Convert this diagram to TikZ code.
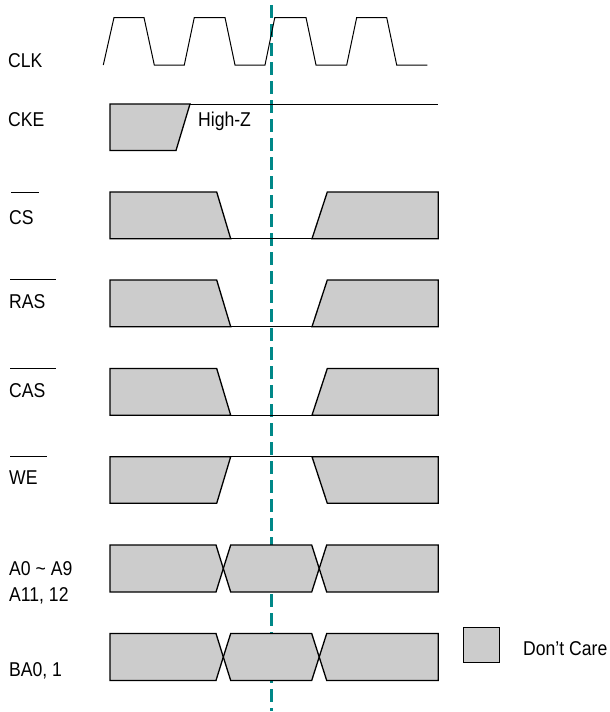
\documentclass[tikz,border=0pt]{standalone}
\usepackage{fontspec}
\setmainfont{Liberation Sans}[FakeStretch=0.88]
\definecolor{dcgray}{RGB}{204,204,204}
\definecolor{markteal}{RGB}{0,136,136}
\begin{document}
\begin{tikzpicture}[x=1pt,y=-1pt,
  lbl/.style={anchor=base west,inner sep=0pt,font=\fontsize{20}{24}\selectfont},
  sig/.style={line width=1pt,line join=miter},
  dc/.style={fill=dcgray,draw=black,line width=1.3pt,line join=miter},
  ovl/.style={line width=0.9pt},
  marker/.style={draw=markteal,line width=2.5pt,dash pattern=on 13pt off 6pt}]
\useasboundingbox (0,0) rectangle (610,712);
\fill[white] (0,0) rectangle (610,712);
% reference marker
\coordinate (dtop) at (271.5,5);
\coordinate (dbot) at (271.5,711);
\draw[marker] (dtop) -- (dbot);
% labels
\node[lbl] (clk) at (8,67.3) {CLK};
\node[lbl] (cke) at (8,126) {CKE};
\node[lbl] (cs) at (9,224) {CS};
\node[lbl] (ras) at (9,308.3) {RAS};
\node[lbl] (cas) at (9,397.3) {CAS};
\node[lbl] (we) at (9,484) {WE};
\node[lbl] (addr) at (9,575.7) {A0 \char`\~{} A9};
\node[lbl] (addr2) at (9,601) {A11, 12};
\node[lbl] (ba) at (9,676.7) {BA0, 1};
\node[lbl] (hiz) at (198,126.7) {High-Z};
\node[lbl] (dclbl) at (523,655) {Don\char39 t Care};
% overlines
\draw[ovl] (11,192) -- (39,192);
\draw[ovl] (10,279.5) -- (56,279.5);
\draw[ovl] (10,368) -- (56,368);
\draw[ovl] (10,456) -- (47,456);
% CLK
\draw[sig] (103.3,65) -- (114,17.5) -- (144,17.5) -- (154.3,65) -- (184.3,65)
  -- (194.3,17.5) -- (225,17.5) -- (235,65) -- (265,65)
  -- (274.8,17.5) -- (306,17.5) -- (316,65) -- (346.7,65)
  -- (356.7,17.5) -- (386.7,17.5) -- (396.7,65) -- (427.3,65);
% CKE
\draw[sig] (110,104) -- (438,104);
\draw[dc] (110,104) -- (190,104) -- (176,150.5) -- (110,150.5) -- cycle;
% CS, RAS, CAS (go low)
\foreach \t in {192,280,368.5}{
  \draw[sig] (230.7,\t+46.7) -- (312,\t+46.7);
  \draw[dc] (110,\t) -- (216.7,\t) -- (230.7,\t+46.7) -- (110,\t+46.7) -- cycle;
  \draw[dc] (312,\t+46.7) -- (327.3,\t) -- (438.3,\t) -- (438.3,\t+46.7) -- cycle;
}
% WE (stays high)
\draw[sig] (230.7,456.7) -- (312,456.7);
\draw[dc] (110,456.7) -- (230.7,456.7) -- (216.7,503.3) -- (110,503.3) -- cycle;
\draw[dc] (312,456.7) -- (438.3,456.7) -- (438.3,503.3) -- (327.3,503.3) -- cycle;
% address / bank buses
\foreach \t in {545,633.5}{
  \draw[dc] (110,\t) -- (216,\t) -- (223.3,\t+23.5) -- (216,\t+47) -- (110,\t+47) -- cycle;
  \draw[dc] (223.3,\t+23.5) -- (230.7,\t) -- (311.7,\t) -- (319.2,\t+23.5)
    -- (311.7,\t+47) -- (230.7,\t+47) -- cycle;
  \draw[dc] (319.2,\t+23.5) -- (326.7,\t) -- (438.3,\t) -- (438.3,\t+47) -- (326.7,\t+47) -- cycle;
}
% legend
\draw[dc] (463.3,627.3) rectangle (499.3,662.7);
\end{tikzpicture}
\end{document}
